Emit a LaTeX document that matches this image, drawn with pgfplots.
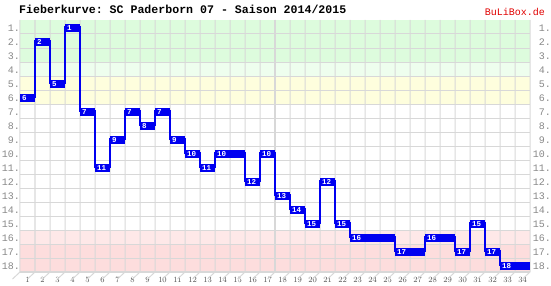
\documentclass[border=0pt]{standalone}
\usepackage{pgfplots}
\pgfplotsset{compat=1.18}
\usepackage{pgfplotstable}
\usepackage{fontspec}
\setmainfont{Liberation Sans}
\setmonofont{Liberation Mono}
\definecolor{gridgray}{HTML}{D8D8D8}
\definecolor{gA}{HTML}{DDFCDD}
\definecolor{gB}{HTML}{EEFEEE}
\definecolor{yA}{HTML}{FEFEDD}
\definecolor{rA}{HTML}{FEE8E8}
\definecolor{rB}{HTML}{FDDDDD}
\definecolor{lblue}{HTML}{0000F0}
\definecolor{lbl}{HTML}{888888}
\definecolor{xl}{HTML}{505050}
\definecolor{bred}{HTML}{E00000}

\pgfplotstableread{
md pos
1 6
2 2
3 5
4 1
5 7
6 11
7 9
8 7
9 8
10 7
11 9
12 10
13 11
14 10
15 10
16 12
17 10
18 13
19 14
20 15
21 12
22 15
23 16
24 16
25 16
26 17
27 17
28 16
29 16
30 17
31 15
32 17
33 18
34 18
}\tbl

\pgfplotstableread{
md pos
1 6
2 2
3 5
4 1
5 7
6 11
7 9
8 7
9 8
10 7
11 9
12 10
13 11
14 10
16 12
17 10
18 13
19 14
20 15
21 12
22 15
23 16
26 17
28 16
30 17
31 15
32 17
33 18
}\lbltbl

\begin{document}
\begin{tikzpicture}
\path[use as bounding box] (0,0) rectangle (551pt,286pt);
\begin{axis}[
  at={(20pt,14pt)}, anchor=south west,
  scale only axis, width=510pt, height=252pt,
  xmin=0.5, xmax=34.5, ymin=0.5, ymax=18.5, y dir=reverse,
  axis line style={draw=none},
  clip=false,
  xtick={1,...,34}, ytick={1,...,18},
  yticklabels={1.,2.,3.,4.,5.,6.,7.,8.,9.,10.,11.,12.,13.,14.,15.,16.,17.,18.},
  major tick length=0pt,
  yticklabel style={font=\ttfamily\fontsize{10}{10}\selectfont, text=lbl, anchor=east, inner sep=0pt, yshift=-1.5pt},
  xticklabel style={font=\ttfamily\fontsize{8}{8}\selectfont, text=xl, anchor=center, inner sep=0pt, yshift=-8pt},
]
\fill[gA] (axis cs:0.5,0.5) rectangle (axis cs:34.5,3.5);
\fill[gB] (axis cs:0.5,3.5) rectangle (axis cs:34.5,4.5);
\fill[yA] (axis cs:0.5,4.5) rectangle (axis cs:34.5,6.5);
\fill[rA] (axis cs:0.5,15.5) rectangle (axis cs:34.5,16.5);
\fill[rB] (axis cs:0.5,16.5) rectangle (axis cs:34.5,18.5);
\pgfplotsinvokeforeach{1,...,17}{
  \draw[gridgray, line width=1pt] (axis cs:0.5,#1.5) -- (axis cs:34.5,#1.5);
}
\pgfplotsinvokeforeach{0,...,34}{
  \draw[gridgray, line width=1pt] (axis cs:#1.5,0.5) -- (axis cs:#1.5,18.5) -- ++(0,-14pt);
}
\draw[gridgray, line width=2pt] (axis cs:17.5,0.5) -- (axis cs:17.5,18.5);
\draw[gridgray, line width=2pt] (axis cs:0.5,18.5) -- (axis cs:34.5,18.5);
\addplot[lblue, line width=1.5pt, const plot mark mid, mark=none] table[x=md,y=pos]{\tbl};
\addplot[draw=none, mark=none, nodes near coords={},
  nodes near coords style={fill=lblue, minimum width=15pt, minimum height=8pt, inner sep=0pt, anchor=center, yshift=-1pt}]
  table[x=md,y=pos]{\tbl};
\addplot[draw=none, mark=none, point meta=explicit symbolic, nodes near coords={\pgfplotspointmeta},
  nodes near coords style={text=white, font=\ttfamily\bfseries\fontsize{7.5}{7.5}\selectfont, inner sep=0pt, anchor=west, xshift=-5.5pt, yshift=-1pt}]
  table[x=md,y=pos,meta=pos]{\lbltbl};
\pgfplotsinvokeforeach{1,...,18}{
  \node[anchor=east, inner sep=0pt, xshift=21pt, yshift=-1.5pt, text=lbl, font=\ttfamily\fontsize{10}{10}\selectfont] at (axis cs:34.5,#1) {#1.};
}
\end{axis}
\node[anchor=base west, inner sep=0pt, font=\ttfamily\bfseries\fontsize{11.6}{12}\selectfont] at (19pt,272pt) {Fieberkurve: SC Paderborn 07 - Saison 2014/2015};
\node[anchor=base east, inner sep=0pt, text=bred, font=\ttfamily\fontsize{10}{10}\selectfont] at (545pt,270pt) {BuLiBox.de};
\end{tikzpicture}
\end{document}
